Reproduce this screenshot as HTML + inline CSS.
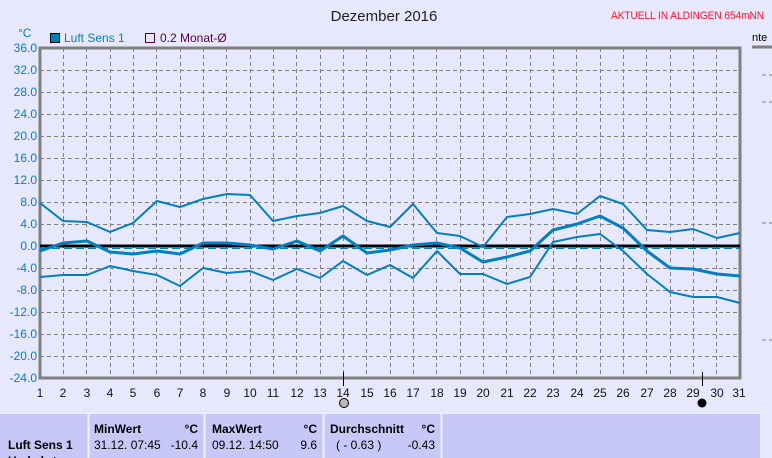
<!DOCTYPE html>
<html><head><meta charset="utf-8"><style>
html,body{margin:0;padding:0;background:#e8e8fc;width:772px;height:458px;overflow:hidden}
svg{display:block;font-family:"Liberation Sans",sans-serif}
</style></head><body>
<svg width="772" height="458" viewBox="0 0 772 458" xmlns="http://www.w3.org/2000/svg">
<rect width="772" height="458" fill="#e8e8fc"/>
<text x="384" y="21" font-size="15" text-anchor="middle" fill="#222">Dezember 2016</text>
<text x="611" y="19" font-size="11" fill="#ff1030" textLength="153" lengthAdjust="spacingAndGlyphs">AKTUELL IN ALDINGEN 654mNN</text>
<text x="18" y="37" font-size="12" fill="#0080c0">°C</text>
<rect x="50.5" y="33.5" width="9" height="9" fill="#0080c0" stroke="#000"/>
<text x="64" y="42" font-size="12" fill="#0080c0">Luft Sens 1</text>
<path d="M145.5 33.5h9v9h-9z" fill="none" stroke="#500050"/>
<text x="160" y="42" font-size="12" fill="#500050">0.2 Monat-Ø</text>
<g stroke="#808080" stroke-dasharray="4,3" stroke-width="1">
<path d="M40 70.5H740M40 92.5H740M40 114.5H740M40 136.5H740M40 158.5H740M40 180.5H740M40 202.5H740M40 224.5H740M40 268.5H740M40 290.5H740M40 312.5H740M40 334.5H740M40 356.5H740"/>
<path d="M63.5 48V378M86.5 48V378M110.5 48V378M133.5 48V378M156.5 48V378M180.5 48V378M203.5 48V378M226.5 48V378M250.5 48V378M273.5 48V378M296.5 48V378M320.5 48V378M343.5 48V378M366.5 48V378M390.5 48V378M413.5 48V378M436.5 48V378M460.5 48V378M483.5 48V378M506.5 48V378M530.5 48V378M553.5 48V378M576.5 48V378M600.5 48V378M623.5 48V378M646.5 48V378M670.5 48V378M693.5 48V378M716.5 48V378"/>
</g>
<rect x="40" y="48" width="700" height="330" fill="none" stroke="#808080" stroke-width="3"/>
<g font-size="12" fill="#0080c0" text-anchor="end">
<text x="37" y="52">36.0</text><text x="37" y="74">32.0</text><text x="37" y="96">28.0</text><text x="37" y="118">24.0</text><text x="37" y="140">20.0</text><text x="37" y="162">16.0</text><text x="37" y="184">12.0</text><text x="37" y="206">8.0</text><text x="37" y="228">4.0</text><text x="37" y="250">0.0</text><text x="37" y="272">-4.0</text><text x="37" y="294">-8.0</text><text x="37" y="316">-12.0</text><text x="37" y="338">-16.0</text><text x="37" y="360">-20.0</text><text x="37" y="382">-24.0</text>
</g>
<g font-size="12" fill="#111" text-anchor="middle">
<text x="40" y="397">1</text><text x="63" y="397">2</text><text x="87" y="397">3</text><text x="110" y="397">4</text><text x="133" y="397">5</text><text x="157" y="397">6</text><text x="180" y="397">7</text><text x="203" y="397">8</text><text x="227" y="397">9</text><text x="250" y="397">10</text><text x="273" y="397">11</text><text x="297" y="397">12</text><text x="320" y="397">13</text><text x="343" y="397">14</text><text x="367" y="397">15</text><text x="390" y="397">16</text><text x="413" y="397">17</text><text x="437" y="397">18</text><text x="460" y="397">19</text><text x="483" y="397">20</text><text x="507" y="397">21</text><text x="530" y="397">22</text><text x="553" y="397">23</text><text x="577" y="397">24</text><text x="600" y="397">25</text><text x="623" y="397">26</text><text x="647" y="397">27</text><text x="670" y="397">28</text><text x="693" y="397">29</text><text x="717" y="397">30</text><text x="739" y="397">31</text>
</g>
<path d="M343.5 372V386M702.5 372V386" stroke="#000"/>
<circle cx="344" cy="403" r="4.5" fill="#bbb" stroke="#000"/>
<circle cx="702" cy="403" r="4.5" fill="#000"/>
<path d="M40 246H740" stroke="#000" stroke-width="3"/>
<path d="M40 248.5H740" stroke="#0080c0" stroke-dasharray="8,4"/>
<g fill="none" stroke="#0080c0" stroke-linejoin="round">
<polyline stroke-width="2" points="40,203 63,221 87,222 110,232 133,223 157,201 180,207 203,199 227,194 250,195 273,221 297,216 320,213 343,206 367,221 390,227 413,204 437,233 460,236 483,247 507,217 530,214 553,209 577,214 600,196 623,204 647,230 670,232 693,229 717,238 740,233"/>
<polyline stroke-width="3" points="40,251 63,243 87,241 110,252 133,254 157,251 180,254 203,243 227,243 250,245 273,249 297,241 320,251 343,236 367,253 390,250 413,245 437,243 460,248 483,262 507,257 530,251 553,230 577,224 600,216 623,228 647,251 670,268 693,269 717,274 740,276"/>
<polyline stroke-width="2" points="40,277 63,275 87,275 110,266 133,271 157,275 180,286 203,268 227,273 250,271 273,280 297,269 320,278 343,261 367,275 390,265 413,278 437,251 460,274 483,274 507,284 530,277 553,242 577,237 600,234 623,251 647,274 670,292 693,297 717,297 740,303"/>
</g>
<path d="M752 47H772" stroke="#808080" stroke-width="3"/>
<path d="M762 75H772M762 102H772M762 223H772M762 340H772" stroke="#808080" stroke-dasharray="4,3"/>
<text x="752" y="41" font-size="11" fill="#000">nte</text>
<rect x="0" y="413" width="760" height="45" fill="#c8c8f8"/>
<path d="M88.5 413V458M204.5 413V458M323.5 413V458M441.5 413V458" stroke="#f0f0ff" stroke-width="2"/>
<path d="M0 413.5H760" stroke="#f0f0ff"/>
<g font-size="12" fill="#000">
<text x="8" y="449" font-weight="bold">Luft Sens 1</text>
<text x="8" y="465" font-weight="bold">Umkehrt</text>
<text x="94" y="433" font-weight="bold">MinWert</text><text x="198" y="433" text-anchor="end" font-weight="bold">°C</text>
<text x="94" y="449">31.12.  07:45</text><text x="198" y="449" text-anchor="end">-10.4</text>
<text x="212" y="433" font-weight="bold">MaxWert</text><text x="317" y="433" text-anchor="end" font-weight="bold">°C</text>
<text x="212" y="449">09.12.  14:50</text><text x="317" y="449" text-anchor="end">9.6</text>
<text x="330" y="433" font-weight="bold">Durchschnitt</text><text x="435" y="433" text-anchor="end" font-weight="bold">°C</text>
<text x="336" y="449">( - 0.63 )</text><text x="435" y="449" text-anchor="end">-0.43</text>
</g>
</svg>
</body></html>
